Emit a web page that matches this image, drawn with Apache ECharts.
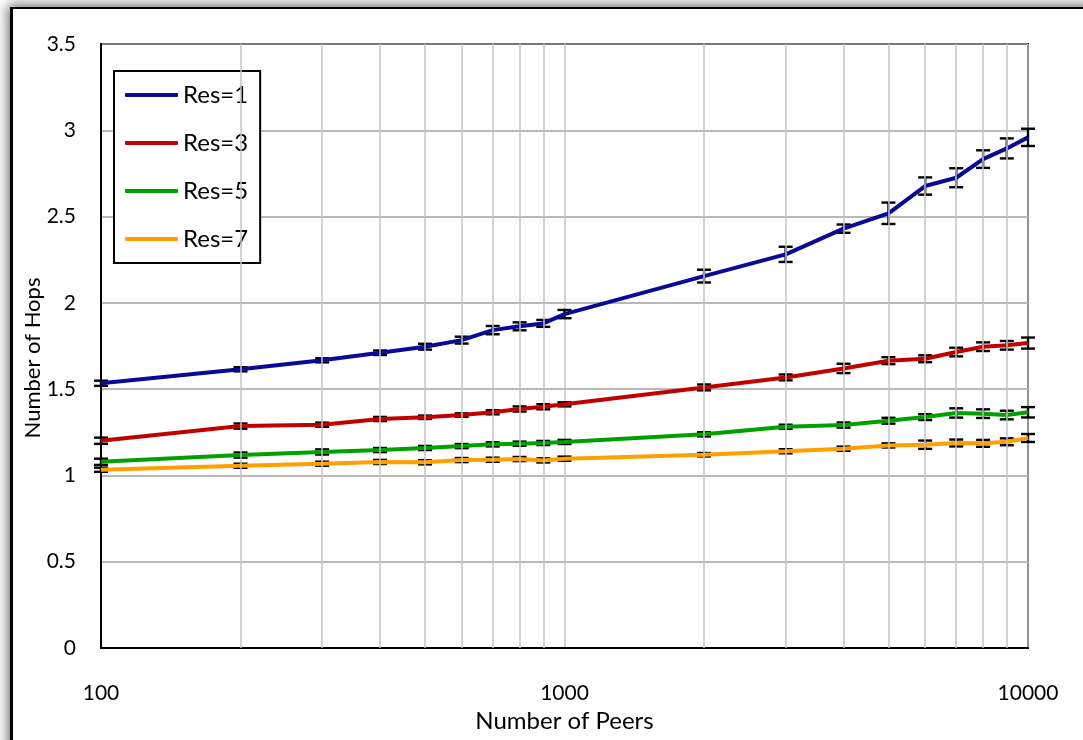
<!DOCTYPE html>
<html>
<head>
<meta charset="utf-8">
<title>Number of Hops vs Number of Peers</title>
<script src="https://cdn.jsdelivr.net/npm/echarts@6/dist/echarts.min.js"></script>
<style>
  html, body { margin: 0; padding: 0; background: #ffffff; overflow: hidden; }
  #frame {
    position: absolute; left: 10px; top: 7px; width: 1200px; height: 900px;
    background: #ffffff; border-left: 3px solid #000; border-top: 2px solid #000;
    box-shadow: -2px -2px 12px rgba(0,0,0,0.6);
  }
  #chart { position: absolute; left: 0; top: 0; width: 1083px; height: 740px; }
</style>
</head>
<body>
<div id="frame"></div>
<div id="chart"></div>
<script>
// Number of peers (log scale)
const peers = [100, 200, 300, 400, 500, 600, 700, 800, 900, 1000,
               2000, 3000, 4000, 5000, 6000, 7000, 8000, 9000, 10000];

// Mean hop counts per resolution, with half-width of the error bars
const res1    = [1.534, 1.615, 1.667, 1.711, 1.746, 1.784, 1.842, 1.864, 1.881, 1.935,
                 2.155, 2.281, 2.430, 2.519, 2.677, 2.725, 2.833, 2.895, 2.959];
const res1Err = [0.015, 0.012, 0.012, 0.013, 0.017, 0.020, 0.024, 0.023, 0.020, 0.024,
                 0.037, 0.044, 0.024, 0.062, 0.050, 0.055, 0.051, 0.058, 0.050];
const res3    = [1.201, 1.286, 1.294, 1.327, 1.337, 1.350, 1.366, 1.385, 1.398, 1.412,
                 1.510, 1.568, 1.620, 1.665, 1.676, 1.715, 1.746, 1.754, 1.767];
const res3Err = [0.018, 0.015, 0.012, 0.012, 0.010, 0.010, 0.012, 0.015, 0.015, 0.012,
                 0.017, 0.017, 0.027, 0.020, 0.020, 0.025, 0.025, 0.025, 0.032];
const res5    = [1.079, 1.118, 1.136, 1.147, 1.159, 1.170, 1.180, 1.184, 1.188, 1.194,
                 1.238, 1.282, 1.292, 1.317, 1.338, 1.362, 1.358, 1.350, 1.366];
const res5Err = [0.018, 0.015, 0.015, 0.012, 0.012, 0.012, 0.012, 0.012, 0.012, 0.012,
                 0.012, 0.012, 0.015, 0.017, 0.017, 0.027, 0.025, 0.025, 0.030];
const res7    = [1.033, 1.056, 1.068, 1.078, 1.076, 1.089, 1.091, 1.095, 1.087, 1.097,
                 1.120, 1.140, 1.155, 1.174, 1.178, 1.188, 1.186, 1.195, 1.217];
const res7Err = [0.012, 0.012, 0.012, 0.012, 0.012, 0.012, 0.012, 0.012, 0.012, 0.012,
                 0.010, 0.012, 0.012, 0.012, 0.024, 0.020, 0.020, 0.020, 0.023];

const seriesNames = ['Res=1', 'Res=3', 'Res=5', 'Res=7'];
const seriesColors = ['#0a0a96', '#c00000', '#00a000', '#ffa000'];
const seriesValues = [res1, res3, res5, res7];
const seriesErrors = [res1Err, res3Err, res5Err, res7Err];

// Minor vertical gridlines between decades
const minorGridX = [200, 300, 400, 500, 600, 700, 800, 900,
                    2000, 3000, 4000, 5000, 6000, 7000, 8000, 9000];

const FONT = 'Lato';

function errorBarRender(params, api) {
  const x = api.value(0);
  const lo = api.value(1);
  const hi = api.value(2);
  const top = api.coord([x, hi]);
  const bot = api.coord([x, lo]);
  const half = 7;
  const style = { stroke: '#000', lineWidth: 2.4 };
  return {
    type: 'group',
    children: [
      { type: 'line', shape: { x1: top[0], y1: top[1], x2: bot[0], y2: bot[1] }, style },
      { type: 'line', shape: { x1: top[0] - half, y1: top[1], x2: top[0] + half, y2: top[1] }, style },
      { type: 'line', shape: { x1: bot[0] - half, y1: bot[1], x2: bot[0] + half, y2: bot[1] }, style }
    ]
  };
}

const series = [];

// Light vertical gridlines at 200..900 and 2000..9000
series.push({
  type: 'line',
  data: [],
  silent: true,
  z: 1,
  markLine: {
    silent: true,
    symbol: ['none', 'none'],
    label: { show: false },
    lineStyle: { color: '#c4c4c4', width: 1.5, type: 'solid' },
    animation: false,
    data: minorGridX.map(v => ({ xAxis: v }))
  }
});

seriesNames.forEach((name, i) => {
  series.push({
    name: name + ' err',
    type: 'custom',
    renderItem: errorBarRender,
    clip: false,
    z: 3,
    encode: { x: 0, y: [1, 2] },
    data: peers.map((p, k) => [p, seriesValues[i][k] - seriesErrors[i][k], seriesValues[i][k] + seriesErrors[i][k]])
  });
});

seriesNames.forEach((name, i) => {
  series.push({
    name: name,
    type: 'line',
    symbol: 'none',
    z: 4,
    lineStyle: { color: seriesColors[i], width: 4 },
    itemStyle: { color: seriesColors[i] },
    data: peers.map((p, k) => [p, seriesValues[i][k]])
  });
});

const chart = echarts.init(document.getElementById('chart'), null, { renderer: 'canvas' });
chart.setOption({
  animation: false,
  backgroundColor: 'transparent',
  grid: {
    left: 101, top: 44, right: 55, bottom: 92,
    show: true, borderColor: '#000', borderWidth: 2, backgroundColor: 'transparent'
  },
  legend: {
    data: seriesNames.map((n, i) => ({ name: n, icon: 'roundRect', itemStyle: { color: seriesColors[i] } })),
    orient: 'vertical',
    left: 114, top: 71,
    backgroundColor: '#fff',
    borderColor: '#000',
    borderWidth: 2,
    borderRadius: 0,
    padding: [12, 12, 12, 11],
    itemWidth: 53,
    itemHeight: 4,
    itemGap: 24,
    textStyle: { fontFamily: FONT, fontSize: 24, color: '#000', lineHeight: 24 }
  },
  xAxis: {
    type: 'log',
    logBase: 10,
    min: 100, max: 10000,
    name: 'Number of Peers',
    nameLocation: 'middle',
    nameGap: 61,
    nameTextStyle: { fontFamily: FONT, fontSize: 24, color: '#000' },
    axisLine: { show: true, lineStyle: { color: '#000', width: 2 } },
    axisTick: { show: false },
    axisLabel: { fontFamily: FONT, fontSize: 21, color: '#000', margin: 35, formatter: v => String(v) },
    splitLine: { show: true, lineStyle: { color: '#c4c4c4', width: 1.5 } },
    minorTick: { show: false },
    minorSplitLine: { show: false }
  },
  yAxis: {
    type: 'value',
    min: 0, max: 3.5, interval: 0.5,
    name: 'Number of Hops',
    nameLocation: 'middle',
    nameGap: 57,
    nameMoveOverlap: false,
    nameTextStyle: { fontFamily: FONT, fontSize: 22, color: '#000', padding: [0, 24, 0, 0] },
    axisLine: { show: true, lineStyle: { color: '#000', width: 2 } },
    axisTick: { show: false },
    axisLabel: { fontFamily: FONT, fontSize: 21, color: '#000', margin: 25, formatter: v => String(v) },
    splitLine: { show: true, lineStyle: { color: '#a0a0a0', width: 1.5 } }
  },
  series: series
});
</script>
</body>
</html>
